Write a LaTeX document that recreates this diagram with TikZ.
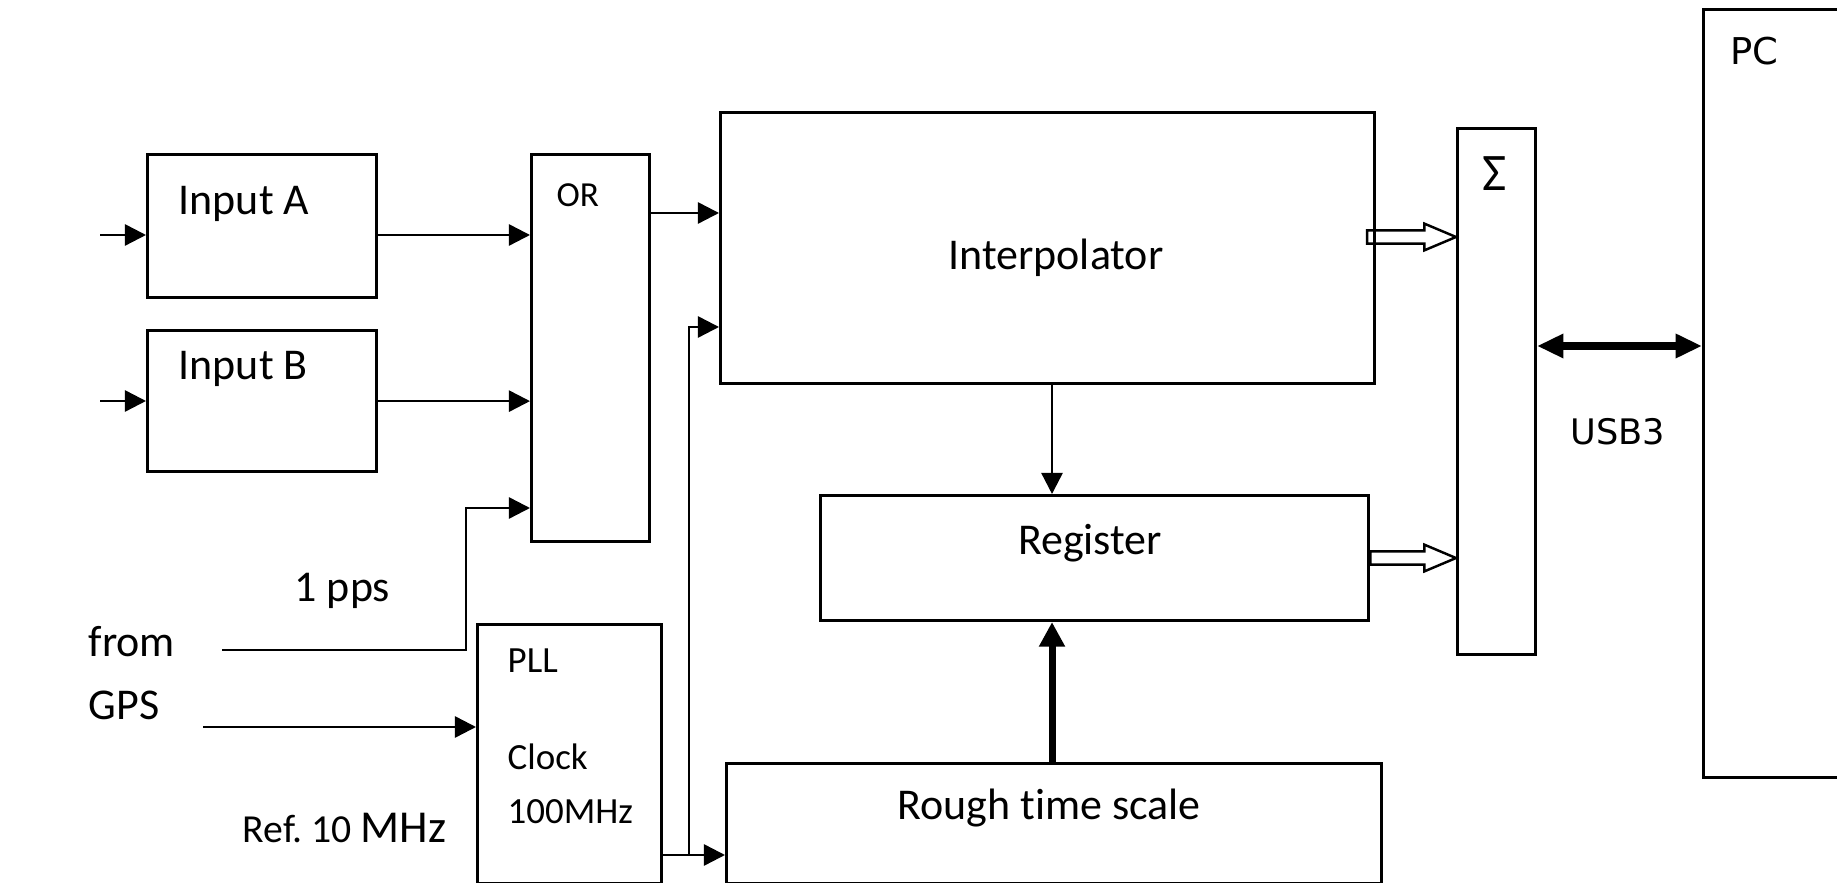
\documentclass[tikz,border=0pt]{standalone}
\usepackage{fontspec}
\setmainfont[Ligatures=NoCommon]{Carlito}
\newfontfamily\dejavu{DejaVu Sans}
\usetikzlibrary{arrows.meta,positioning,calc}

\begin{document}
\begin{tikzpicture}[x=0.01cm, y=-0.01cm,
    blk/.style={draw, line width=0.85pt, inner sep=0pt},
    txt/.style={inner sep=0pt, anchor=base west, font=\fontsize{12.5}{15}\selectfont},
    small/.style={inner sep=0pt, anchor=base west, font=\fontsize{10.5}{12}\selectfont},
    arr/.style={line width=0.7pt, -{Triangle[length=6pt, width=6pt]}},
    fat/.style={line width=2pt, -{Triangle[length=7pt, width=7pt]}},
    hollow/.style={line width=0.7pt, to path={let \p1=(\tikztostart), \p2=(\tikztotarget) in
        (\x1,\y1+1.9pt) -- (\x2-9pt,\y1+1.9pt) -- (\x2-9pt,\y1+3.8pt) -- (\x2,\y1)
        -- (\x2-9pt,\y1-3.8pt) -- (\x2-9pt,\y1-1.9pt) -- (\x1,\y1-1.9pt) -- cycle}}]
  \useasboundingbox (0,0) rectangle (1837,883);

  % blocks
  \node[blk, anchor=north west, minimum width=2.29cm, minimum height=1.43cm] (inA) at (146,153) {};
  \node[blk, below=0.30cm of inA, minimum width=2.29cm, minimum height=1.41cm] (inB) {};
  \node[blk, anchor=north west, minimum width=1.18cm, minimum height=3.87cm] (orb) at (530,153) {};
  \node[blk, anchor=north west, minimum width=1.84cm, minimum height=2.59cm] (pll) at (476,623) {};
  \node[blk, anchor=north west, minimum width=6.54cm, minimum height=2.71cm] (interp) at (719,111) {};
  \node[blk, anchor=north west, minimum width=5.48cm, minimum height=1.25cm] (reg) at (819,494) {};
  \node[blk, anchor=north west, minimum width=6.55cm, minimum height=1.20cm] (rough) at (725,762) {};
  \node[blk, anchor=north west, minimum width=0.78cm, minimum height=5.26cm] (sig) at (1456,127) {};
  \node[blk, anchor=north west, minimum width=2.0cm, minimum height=7.68cm] (pc) at (1702,8) {};

  % texts
  \node[txt] (tA) at (178,215) {Input A};
  \node[txt] (tB) at (178,380) {Input B};
  \node[txt, font=\fontsize{10}{12}\selectfont] (tOR) at (556,207) {OR};
  \node[txt, anchor=base] (tInt) at (1056,270) {Interpolator};
  \node[txt, anchor=base] (tReg) at (1090,555) {Register};
  \node[txt, anchor=base] (tRough) at (1049,820) {Rough time scale};
  \node[small] (tPLL) at (507,673) {PLL};
  \node[small] (tClk) at (507,770) {Clock};
  \node[small] (tMHz) at (507,823) {100MHz};
  \node[txt] (tpps) at (294,602) {1 pps};
  \node[txt] (tfrom) at (88,657) {from};
  \node[txt] (tgps) at (88,720) {GPS};
  \node[txt, font=\fontsize{11.3}{13}\selectfont] (tref) at (242,842) {Ref.\ 10 {\fontsize{13}{15}\selectfont MHz}};
  \node[txt, anchor=base, font=\fontsize{15}{18}\selectfont] (tsig) at (1495,191) {Σ};
  \node[txt, font=\dejavu\fontsize{10.5}{12}\selectfont] (tpc) at (1730,65) {PC};
  \node[txt, anchor=base, font=\dejavu\fontsize{10}{12}\selectfont] (tusb) at (1618,445) {USB3};

  % connectors
  \coordinate (srcA) at (100,235);
  \coordinate (srcB) at (100,401);
  \coordinate (pps) at (222,650);
  \coordinate (ppsup) at (466,508);
  \coordinate (ref) at (203,727);
  \coordinate (clk) at (0,855);
  \coordinate (clkup) at (689,855);
  \coordinate (lvl1) at (0,213);
  \coordinate (lvl2) at (0,327);
  \coordinate (mid) at (1052,0);
  \coordinate (h1) at (1367,237);
  \coordinate (usbl) at (0,346);

  \draw[arr] (srcA) -- (srcA -| inA.west);
  \draw[arr] (srcB) -- (srcB -| inB.west);
  \draw[arr] (srcA -| inA.east) -- (srcA -| orb.west);
  \draw[arr] (inB.east) -- (inB.east -| orb.west);
  \draw[arr] (pps) -| (ppsup) -- (ppsup -| orb.west);
  \draw[arr] (ref) -- (ref -| pll.west);
  \draw[arr] (clk -| pll.east) -- (clk -| rough.west);
  \draw[arr] (clkup) |- (lvl2 -| interp.west);
  \draw[arr] (lvl1 -| orb.east) -- (lvl1 -| interp.west);
  \draw[arr] (mid |- interp.south) -- (mid |- reg.north);
  \draw[fat] (mid |- rough.north) -- (mid |- reg.south);
  \draw[hollow] (h1) to (h1 -| sig.west);
  \draw[hollow] (reg.east) to (reg.east -| sig.west);
  \draw[line width=2pt, {Triangle[length=7.5pt, width=6.5pt]}-{Triangle[length=7.5pt, width=6.5pt]}] (usbl -| sig.east) -- (usbl -| pc.west);
\end{tikzpicture}
\end{document}
